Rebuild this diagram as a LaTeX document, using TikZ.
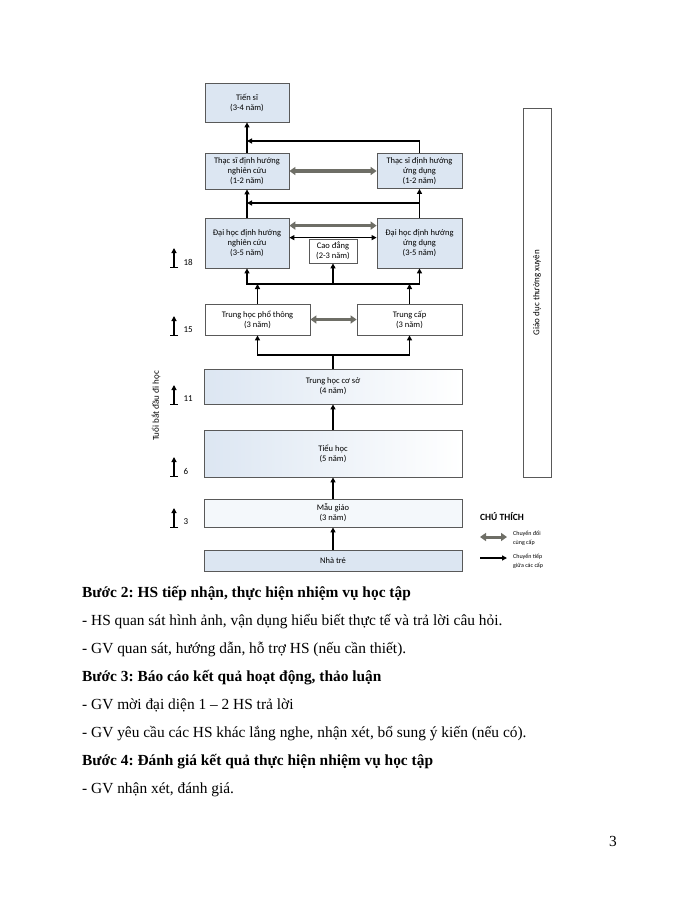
\documentclass[tikz,border=0pt]{standalone}
\usepackage{fontspec}
\setmainfont{Liberation Serif}
\newfontfamily\calibri{Carlito}
\usetikzlibrary{positioning,calc,arrows.meta}
\definecolor{khung}{HTML}{595959}
\definecolor{nenxanh}{HTML}{DCE6F2}
\definecolor{muiten}{HTML}{6E6E66}
\frenchspacing

\begin{document}
\begin{tikzpicture}
            [
                x=1pt, y=-1pt,
                capbox/.style 2 args={draw=khung, line width=0.8pt, fill=nenxanh, inner sep=0pt,
                    align=center, minimum width=#1, minimum height=#2,
                    font=\calibri\fontsize{8.5}{10}\selectfont},
                trang/.style={fill=white},
                nhatdan/.style={left color=nenxanh, right color=white},
                noi/.style={line width=1.4pt, -{Triangle[length=5pt,width=5pt]}},
                lien/.style={line width=1.4pt, line cap=rect},
                doi/.style={line width=3.5pt, draw=muiten,
                    {Triangle[length=6pt,width=8pt]}-{Triangle[length=6pt,width=8pt]}},
                haichieu/.style={line width=1.2pt,
                    {Triangle[length=5pt,width=5pt]}-{Triangle[length=5pt,width=5pt]}},
                tuoi/.style={line width=1.1pt, {Bar[width=8pt]}-{Triangle[length=5pt,width=5pt]}},
                nhan/.style={font=\calibri\fontsize{9}{10}\selectfont},
                dong/.style={anchor=base west, inner sep=0pt, font=\fontsize{15.4}{17}\selectfont},
            ]
            \fill[white] (0,0) rectangle (700,906);
            %cac cap hoc
            \node[capbox={84pt}{39pt}] (ts) at (247,102.5) {Tiến sĩ\\(3-4 năm)};
            \node[capbox={84pt}{36pt}] (tsnc) at (247,171) {Thạc sĩ định hướng\\nghiên cứu\\(1-2 năm)};
            \node[capbox={85pt}{35pt}] (tsud) at (419.5,171) {Thạc sĩ định hướng\\ứng dụng\\(1-2 năm)};
            \node[capbox={84pt}{50pt}] (dhnc) at (247,243) {Đại học định hướng\\nghiên cứu\\(3-5 năm)};
            \node[capbox={85pt}{50pt}] (dhud) at (419.5,243) {Đại học định hướng\\ứng dụng\\(3-5 năm)};
            \node[capbox={48pt}{24pt}, trang] (cd) at (333,251) {Cao đẳng\\(2-3 năm)};
            \node[capbox={105pt}{31pt}, trang] (thpt) at (257.5,319.5) {Trung học phổ thông\\(3 năm)};
            \node[capbox={105pt}{31pt}, trang] (tc) at (409.5,319.5) {Trung cấp\\(3 năm)};
            \node[capbox={258pt}{35pt}, nhatdan] (thcs) at (333,386.5) {Trung học cơ sở\\(4 năm)};
            \node[capbox={258pt}{47pt}, nhatdan] (th) at (333,453.5) {Tiểu học\\(5 năm)};
            \node[capbox={258pt}{28pt}, fill=nenxanh!30] (mg) at (333,513) {Mẫu giáo\\(3 năm)};
            \node[capbox={258pt}{21pt}] (nt) at (333,560.5) {Nhà trẻ};
            \node[capbox={28pt}{369pt}, trang] (gdtx) at (537,292.5) {};
            \node[nhan, rotate=90] at (gdtx.center) {Giáo dục thường xuyên};

            %chuyen tiep
            \coordinate (nts) at (247,141);
            \draw[noi] (tsnc.north) -- (ts.south);
            \draw[noi] (tsud.north) |- (nts);
            \coordinate (ndh) at (247,203);
            \draw[noi] (dhnc.north) -- (tsnc.south);
            \draw[noi] (dhud.north) -- (tsud.south);
            \draw[noi] (dhud.north |- ndh) -- (ndh);
            \coordinate (nthpt) at (333,284);
            \draw[lien] (dhnc.south |- nthpt) -- (dhud.south |- nthpt);
            \draw[noi] (dhnc.south |- nthpt) -- (dhnc.south);
            \draw[noi] (nthpt) -- (cd.south);
            \draw[noi] (dhud.south |- nthpt) -- (dhud.south);
            \draw[noi] (thpt.north) -- (thpt.north |- nthpt);
            \draw[noi] (tc.north) -- (tc.north |- nthpt);
            \coordinate (nthcs) at (333,355);
            \draw[lien] (thcs.north) -- (nthcs);
            \draw[lien] (thpt.south |- nthcs) -- (tc.south |- nthcs);
            \draw[noi] (thpt.south |- nthcs) -- (thpt.south);
            \draw[noi] (tc.south |- nthcs) -- (tc.south);
            \draw[noi] (th.north) -- (thcs.south);
            \draw[noi] (mg.north) -- (th.south);
            \draw[noi] (nt.north) -- (mg.south);

            %chuyen doi cung cap
            \draw[doi] (tsnc.east) -- (tsud.west);
            \draw[doi] ($(dhnc.north east)+(0,8)$) -- ($(dhud.north west)+(0,8)$);
            \draw[haichieu] ($(dhnc.north east)+(0,20)$) -- ($(dhud.north west)+(0,20)$);
            \draw[doi] (thpt.east) -- (tc.west);

            %tuoi
            \node[nhan, rotate=90] (tuoi) at (156,406) {Tuổi bắt đầu đi học};
            \node[nhan, anchor=west] (t18) at (180,262) {18};
            \node[nhan, anchor=west] (t15) at (180,330) {15};
            \node[nhan, anchor=west] (t11) at (180,399) {11};
            \node[nhan, anchor=west] (t6) at (180,471) {6};
            \node[nhan, anchor=west] (t3) at (180,522) {3};
            \foreach \t in {t18,t15,t11,t6,t3}
                \draw[tuoi] ($(\t.west)+(-6,6)$) -- ++(0,-20);

            %chu thich
            \node[anchor=west, inner sep=0pt, font=\calibri\bfseries\fontsize{9.5}{11}\selectfont] (chuthich) at (480,517) {CHÚ THÍCH};
            \node[anchor=west, align=left, inner sep=0pt, font=\calibri\fontsize{6}{9}\selectfont] (ctdoi) at (513,538) {Chuyển đổi\\cùng cấp};
            \node[anchor=west, align=left, inner sep=0pt, font=\calibri\fontsize{6}{9}\selectfont] (ctnoi) at (513,561) {Chuyển tiếp\\giữa các cấp};
            \draw[doi, line width=3pt] ($(ctdoi.west)+(-33,-1)$) -- ($(ctdoi.west)+(-6,-1)$);
            \draw[noi] ($(ctnoi.west)+(-33,-3)$) -- ($(ctnoi.west)+(-6,-3)$);

            %cac buoc
            \node[dong, font=\bfseries\fontsize{15.4}{17}\selectfont] (b2) at (82,597) {Bước 2: HS tiếp nhận, thực hiện nhiệm vụ học tập};
            \node[dong] (b2a) at (82,625) {- HS quan sát hình ảnh, vận dụng hiểu biết thực tế và trả lời câu hỏi.};
            \node[dong] (b2b) at (82,653) {- GV quan sát, hướng dẫn, hỗ trợ HS (nếu cần thiết).};
            \node[dong, font=\bfseries\fontsize{15.4}{17}\selectfont] (b3) at (82,681) {Bước 3: Báo cáo kết quả hoạt động, thảo luận};
            \node[dong] (b3a) at (82,709) {- GV mời đại diện 1 – 2 HS trả lời};
            \node[dong] (b3b) at (82,737) {- GV yêu cầu các HS khác lắng nghe, nhận xét, bổ sung ý kiến (nếu có).};
            \node[dong, font=\bfseries\fontsize{15.4}{17}\selectfont] (b4) at (82,765) {Bước 4: Đánh giá kết quả thực hiện nhiệm vụ học tập};
            \node[dong] (b4a) at (82,793) {- GV nhận xét, đánh giá.};
            \node[dong] (trang) at (609,846) {3};
        \end{tikzpicture}
\end{document}
